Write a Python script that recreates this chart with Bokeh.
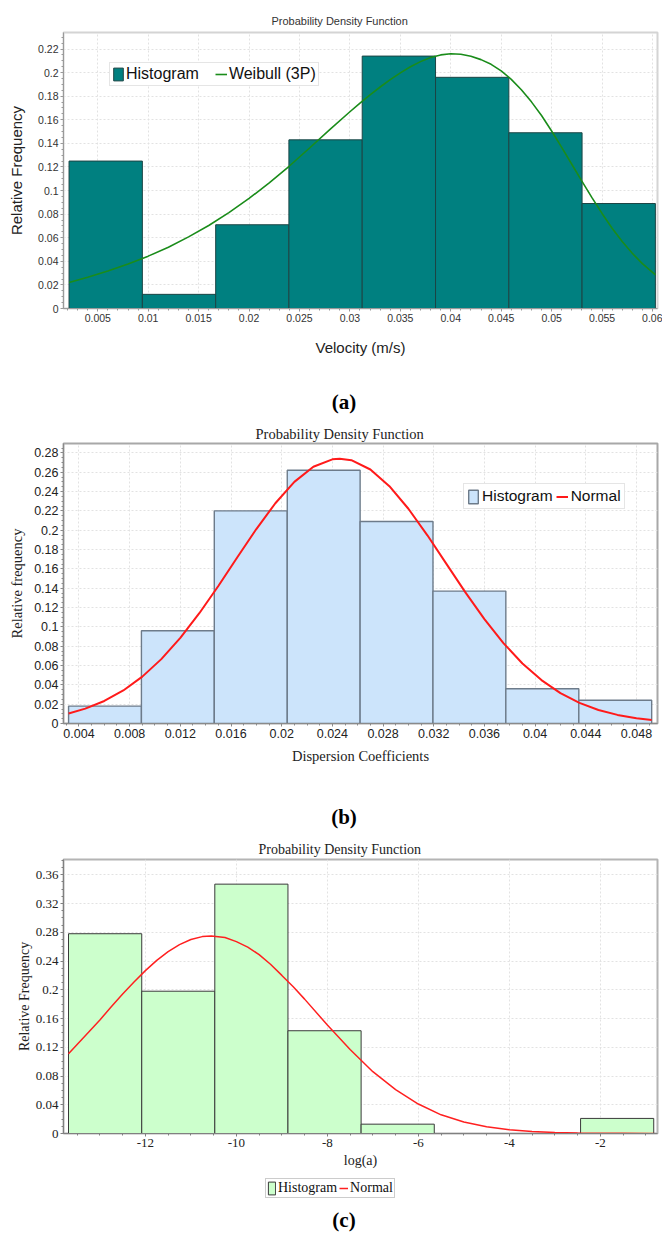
from bokeh.plotting import figure
from bokeh.layouts import column
from bokeh.models import (Range1d, FixedTicker, CustomJSTickFormatter, Legend, LegendItem,
                          Title, Div)
from bokeh.embed import file_html
from bokeh.resources import INLINE

SANS = "Liberation Sans"
SERIF = "Liberation Serif"
W = 662

# ---------------- data: panel (a) velocity ----------------
a_edges = [0.00215, 0.00942, 0.01669, 0.02395, 0.03122, 0.03849, 0.04576, 0.05302, 0.06029]
a_freq = [0.125, 0.012, 0.071, 0.143, 0.214, 0.196, 0.149, 0.089]
a_curve_x = [0.00215, 0.004, 0.006, 0.008, 0.010, 0.012, 0.014, 0.016, 0.018, 0.020,
             0.022, 0.024, 0.026, 0.028, 0.030, 0.031, 0.032, 0.033, 0.034, 0.035,
             0.036, 0.037, 0.038, 0.039, 0.040, 0.041, 0.042, 0.043, 0.044,
             0.045, 0.046, 0.047, 0.048, 0.049, 0.050, 0.051, 0.052, 0.053, 0.054,
             0.055, 0.056, 0.057, 0.058, 0.059, 0.0603]
a_curve_y = [0.0220, 0.0265, 0.0318, 0.0377, 0.0444, 0.0520, 0.0607, 0.0704, 0.0813, 0.0933,
             0.1065, 0.1208, 0.1361, 0.1516, 0.1668, 0.1742, 0.1812, 0.1878, 0.1940, 0.1998,
             0.2050, 0.2093, 0.2128, 0.2150, 0.2160, 0.2155, 0.2138, 0.2110, 0.2070,
             0.2015, 0.1943, 0.1855, 0.1752, 0.1636, 0.1505, 0.1366, 0.1223, 0.1080, 0.0940,
             0.0806, 0.0681, 0.0568, 0.0468, 0.0380, 0.0285]
a_xticks = [0.005, 0.01, 0.015, 0.02, 0.025, 0.03, 0.035, 0.04, 0.045, 0.05, 0.055, 0.06]
a_yticks = [0, 0.02, 0.04, 0.06, 0.08, 0.1, 0.12, 0.14, 0.16, 0.18, 0.2, 0.22]

# ---------------- data: panel (b) dispersion ----------------
b_edges = [0.00318, 0.00893, 0.01468, 0.02044, 0.02619, 0.03194, 0.03769, 0.04345, 0.04920]
b_freq = [0.018, 0.096, 0.220, 0.262, 0.209, 0.137, 0.036, 0.024]
b_curve_x = [0.00318, 0.0045, 0.006, 0.0075, 0.009, 0.0105, 0.012, 0.0135, 0.015, 0.0165,
             0.018, 0.0195, 0.021, 0.0225, 0.024, 0.02458, 0.0255, 0.027, 0.0285, 0.030,
             0.0315, 0.033, 0.0345, 0.036, 0.0375, 0.039, 0.0405, 0.042, 0.0435, 0.045,
             0.0465, 0.048, 0.0492]
b_curve_y = [0.0104, 0.0154, 0.0233, 0.0342, 0.0485, 0.0666, 0.0886, 0.1141, 0.1423, 0.1720,
             0.2012, 0.2279, 0.2500, 0.2657, 0.2733, 0.2740, 0.2724, 0.2628, 0.2455, 0.2222,
             0.1947, 0.1652, 0.1357, 0.1080, 0.0832, 0.0621, 0.0449, 0.0314, 0.0213, 0.0140,
             0.0089, 0.0055, 0.0036]
b_xticks = [0.004, 0.008, 0.012, 0.016, 0.02, 0.024, 0.028, 0.032, 0.036, 0.04, 0.044, 0.048]
b_yticks = [0, 0.02, 0.04, 0.06, 0.08, 0.1, 0.12, 0.14, 0.16, 0.18, 0.2, 0.22, 0.24, 0.26, 0.28]

# ---------------- data: panel (c) log(a) ----------------
c_edges = [-13.69, -12.08, -10.474, -8.866, -7.258, -5.65, -4.042, -2.434, -0.826]
c_freq = [0.278, 0.198, 0.347, 0.143, 0.013, 0.0, 0.0, 0.021]
c_curve_x = [-13.69, -13.25, -13.0, -12.75, -12.5, -12.25, -12.0, -11.75, -11.5, -11.25,
             -11.0, -10.75, -10.55, -10.25, -10.0, -9.75, -9.5, -9.25, -9.0, -8.75, -8.5,
             -8.0, -7.5, -7.0, -6.5, -6.0, -5.5, -5.0, -4.5, -4.0, -3.5, -3.0, -2.5,
             -2.0, -1.5, -0.826]
c_curve_y = [0.111, 0.1408, 0.158, 0.1763, 0.194, 0.2109, 0.2267, 0.2409, 0.253, 0.2629,
             0.270, 0.2740, 0.275, 0.2727, 0.267, 0.2593, 0.249, 0.2355, 0.220, 0.2042, 0.187,
             0.151, 0.117, 0.086, 0.061, 0.041, 0.026, 0.016, 0.0095, 0.0053, 0.0028,
             0.0014, 0.0007, 0.0003, 0.0002, 0.0001]
c_xticks = [-12, -10, -8, -6, -4, -2]
c_yticks = [0, 0.04, 0.08, 0.12, 0.16, 0.2, 0.24, 0.28, 0.32, 0.36]


def fmt(dec):
    if dec == 0:
        return CustomJSTickFormatter(code="return tick.toFixed(0);")
    return CustomJSTickFormatter(code="return tick.toFixed(%d).replace(/\\.?0+$/, '');" % dec)


def minor(ticks, n, lo, hi):
    step = (ticks[1] - ticks[0]) / n
    start = ticks[0] - step * int((ticks[0] - lo) / step)
    out = []
    v = start
    while v <= hi + 1e-12:
        out.append(round(v, 8))
        v += step
    return out


def make_panel(height, top, fh, xr, yr, xticks, yticks, xdec, ydec, nxm, nym,
               tick_font, tick_size, tick_color, axis_color, outline_color,
               xlabel, ylabel, label_font, label_size, xl_standoff, yl_standoff,
               title, title_font, title_size, title_color, title_standoff, title_offset):
    p = figure(width=W, height=height, x_range=Range1d(*xr), y_range=Range1d(*yr),
               output_backend="svg", toolbar_location=None, title=None,
               min_border_left=63, min_border_right=W - 63 - 594, min_border_top=top,
               min_border_bottom=height - top - fh)
    p.add_layout(Title(text=title, align="left", offset=title_offset, text_font=title_font,
                       text_font_size=title_size, text_font_style="normal",
                       text_color=title_color, standoff=title_standoff), "above")
    p.background_fill_color = "white"
    p.border_fill_color = "white"
    p.outline_line_color = outline_color
    p.outline_line_width = 2
    p.xaxis.ticker = FixedTicker(ticks=xticks, minor_ticks=minor(xticks, nxm, xr[0], xr[1]))
    p.yaxis.ticker = FixedTicker(ticks=yticks, minor_ticks=minor(yticks, nym, yr[0], yr[1]))
    p.xaxis.formatter = fmt(xdec)
    p.yaxis.formatter = fmt(ydec)
    for ax in (p.xaxis, p.yaxis):
        ax.axis_line_color = axis_color
        ax.major_tick_line_color = axis_color
        ax.minor_tick_line_color = axis_color
        ax.major_tick_in = 0
        ax.major_tick_out = 3
        ax.minor_tick_in = 0
        ax.minor_tick_out = 2
        ax.major_label_text_font = tick_font
        ax.major_label_text_font_size = tick_size
        ax.major_label_text_color = tick_color
        ax.major_label_standoff = 2
        ax.axis_label_text_font = label_font
        ax.axis_label_text_font_size = label_size
        ax.axis_label_text_font_style = "normal"
        ax.axis_label_text_color = "#222222"
    p.xaxis.axis_label = xlabel
    p.yaxis.axis_label = ylabel
    p.xaxis.axis_label_standoff = xl_standoff
    p.yaxis.axis_label_standoff = yl_standoff
    p.xgrid.ticker = FixedTicker(ticks=xticks)
    p.ygrid.ticker = FixedTicker(ticks=yticks)
    for g in (p.xgrid, p.ygrid):
        g.grid_line_color = "#e2e2e2"
        g.grid_line_dash = "2 2"
        g.grid_line_width = 1
    return p


def caption(text, height, top):
    html = ('<div style="width:%dpx;box-sizing:border-box;padding-left:26px;text-align:center;'
            'margin-top:%dpx;font-family:\'Liberation Serif\';font-weight:bold;font-size:21px;'
            'line-height:22px;color:#000;">%s</div>' % (W, top, text))
    return Div(text=html, width=W, height=height, margin=(0, 0, 0, 0))


# ================= panel (a) =================
pa = make_panel(365, 32, 276, (0.0016, 0.0605), (0, 0.234), a_xticks, a_yticks, 3, 2, 5, 4,
                SANS, "10.5px", "#333333", "#9a9a9a", "#d4d4d4",
                "Velocity (m/s)", "Relative Frequency", SANS, "15px", 14, 10,
                "Probability Density Function", SANS, "11px", "#333333", 12, 208)
ha = pa.quad(left=a_edges[:-1], right=a_edges[1:], bottom=0, top=a_freq,
             fill_color="#008080", line_color="#1c4444", line_width=1)
la = pa.line(a_curve_x, a_curve_y, line_color="#1a8c1a", line_width=1.6)
lega = Legend(items=[LegendItem(label="Histogram", renderers=[ha]),
                     LegendItem(label="Weibull (3P)", renderers=[la])],
              location=(46, 222), orientation="horizontal",
              label_text_font=SANS, label_text_font_size="16px", label_text_color="#111111",
              glyph_width=12, glyph_height=16, label_height=16, label_standoff=2,
              spacing=16, padding=2, margin=0, border_line_color="#cccccc",
              background_fill_color="white", background_fill_alpha=1)
pa.add_layout(lega, "center")
cap_a = caption("(a)", 53, 26)

# ================= panel (b) =================
pb = make_panel(357, 25, 280, (0.00278, 0.04966), (0, 0.2897), b_xticks, b_yticks, 3, 2, 4, 4,
                SANS, "12.5px", "#222222", "#8a8a8a", "#a8a8a8",
                "Dispersion Coefficients", "Relative frequency", SERIF, "14.5px", 7, 6,
                "Probability Density Function", SERIF, "14.5px", "#222222", 4, 192)
hb = pb.quad(left=b_edges[:-1], right=b_edges[1:], bottom=0, top=b_freq,
             fill_color="#cce4fb", line_color="#6d7b8a", line_width=1.4)
lb = pb.line(b_curve_x, b_curve_y, line_color="#ff1a1a", line_width=2)
legb = Legend(items=[LegendItem(label="Histogram", renderers=[hb]),
                     LegendItem(label="Normal", renderers=[lb])],
              location=(400, 214), orientation="horizontal",
              label_text_font=SANS, label_text_font_size="15.5px", label_text_color="#111111",
              glyph_width=12, glyph_height=17, label_height=17, label_standoff=3,
              spacing=3, padding=3, margin=0, border_line_color="#cccccc",
              background_fill_color="white", background_fill_alpha=1)
pb.add_layout(legb, "center")
cap_b = caption("(b)", 57, 31)

# ================= panel (c) =================
pc = make_panel(341, 27, 274, (-13.80, -0.743), (0, 0.3813), c_xticks, c_yticks, 0, 2, 4, 4,
                SERIF, "13px", "#222222", "#808080", "#b4b4b4",
                "log(a)", "Relative Frequency", SERIF, "14px", 3, 1,
                "Probability Density Function", SERIF, "14px", "#222222", 6, 195)
hc = pc.quad(left=c_edges[:-1], right=c_edges[1:], bottom=0, top=c_freq,
             fill_color="#ccffcc", line_color="#3a3a3a", line_width=1)
lc = pc.line(c_curve_x, c_curve_y, line_color="#ff2020", line_width=1.5)

# legend of panel (c) sits below the axis: drawn in its own strip (same glyph styles,
# the strip's samples lie outside its visible range so only the legend shows)
pl = figure(width=W, height=32, x_range=Range1d(0, 1), y_range=Range1d(0, 1),
            output_backend="svg", toolbar_location=None, title=None,
            x_axis_type=None, y_axis_type=None, min_border=0)
pl.outline_line_color = None
pl.xgrid.visible = False
pl.ygrid.visible = False
hl = pl.quad(left=[5], right=[6], bottom=[5], top=[6],
             fill_color="#ccffcc", line_color="#3a3a3a", line_width=1)
ll = pl.line(x=[5, 6], y=[5, 6], line_color="#ff2020", line_width=1.5)
legc = Legend(items=[LegendItem(label="Histogram", renderers=[hl]),
                     LegendItem(label="Normal", renderers=[ll])],
              location=(202, 7), orientation="horizontal",
              label_text_font=SERIF, label_text_font_size="14px", label_text_color="#111111",
              glyph_width=9, glyph_height=16, label_height=16, label_standoff=2,
              spacing=2, padding=1, margin=0, border_line_color="#999999",
              background_fill_color="white", background_fill_alpha=1)
pl.add_layout(legc, "center")
cap_c = caption("(c)", 27, 4)

layout = column(pa, cap_a, pb, cap_b, pc, pl, cap_c, spacing=0)
open("out.html", "w").write(file_html(layout, INLINE))
